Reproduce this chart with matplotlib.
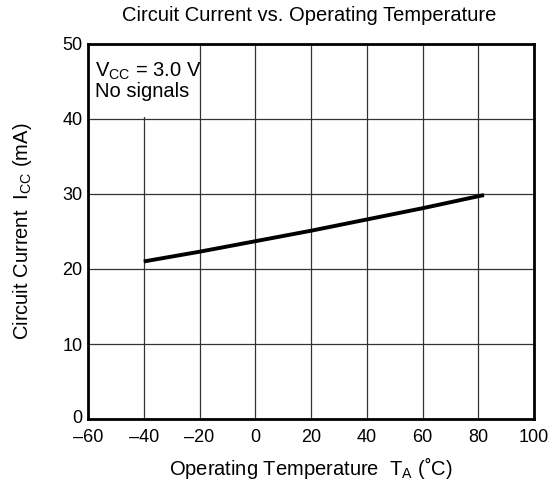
import matplotlib
matplotlib.use('Agg')
import matplotlib.pyplot as plt
import matplotlib.transforms as mtransforms
from matplotlib.patches import Rectangle

plt.rcParams['font.family'] = ['Liberation Sans', 'DejaVu Sans']
plt.rcParams['mathtext.fontset'] = 'custom'
plt.rcParams['mathtext.rm'] = 'Liberation Sans'
plt.rcParams['mathtext.it'] = 'Liberation Sans'

# supply current vs ambient temperature
temps = [-40, -20, 0, 20, 40, 60, 80, 82]
icc = [21.0, 22.3, 23.7, 25.1, 26.6, 28.1, 29.7, 29.85]

x_ticks = [-60, -40, -20, 0, 20, 40, 60, 80, 100]
x_labels = ['\u201360', '\u201340', '\u201320', '0', '20', '40', '60', '80', '100']
y_ticks = [0, 10, 20, 30, 40, 50]

fig = plt.figure(figsize=(5.6, 4.93), dpi=100)
ax = fig.add_axes([0.157, 0.150, 0.797, 0.761])

ax.plot(temps, icc, color='black', lw=2.8, solid_capstyle='butt', zorder=3)

ax.set_xlim(-60, 100)
ax.set_ylim(0, 50)
ax.set_xticks(x_ticks)
ax.set_xticklabels(x_labels)
ax.set_yticks(y_ticks)
ax.tick_params(length=0, labelsize=13)
ax.tick_params(axis='x', pad=7)
ax.tick_params(axis='y', pad=4)

# nudge the corner "0" up so it clears the -60 label
lbl0 = ax.get_yticklabels()[0]
lbl0.set_transform(lbl0.get_transform() + mtransforms.ScaledTranslation(0, 2 / 72, fig.dpi_scale_trans))

#grid
ax.set_axisbelow(True)
ax.grid(True, color='#333333', lw=0.9)
for sp in ax.spines.values():
    sp.set_linewidth(2)
    sp.set_zorder(4)

# blank corner behind the conditions note
ax.add_patch(Rectangle((-59.6, 40.25), 39.3, 9.5, facecolor='white', edgecolor='none', zorder=1))
ax.text(-57.6, 47.8, '$\\mathregular{V_{CC}}$ = 3.0 V\nNo signals', fontsize=14.5,
        va='top', ha='left', linespacing=1.0, zorder=2)

ax.set_xlabel('Operating Temperature  $\\mathregular{T_A}$ (\u02daC)', fontsize=14.5, labelpad=7)
ax.set_ylabel('Circuit Current  $\\mathregular{I_{CC}}$ (mA)', fontsize=14.5, labelpad=20)
fig.text(0.553, 0.968, 'Circuit Current vs. Operating Temperature', fontsize=14.5,
         ha='center', va='center')

fig.savefig('out.png', dpi=100)
